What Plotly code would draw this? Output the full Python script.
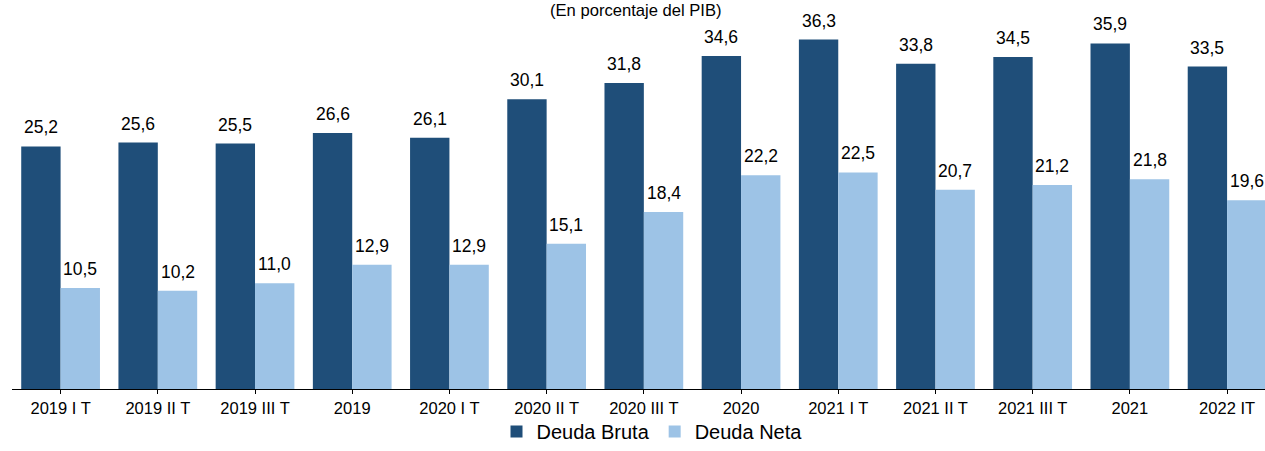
import plotly.graph_objects as go

categories = ["2019 I T", "2019 II T", "2019 III T", "2019", "2020 I T", "2020 II T",
              "2020 III T", "2020", "2021 I T", "2021 II T", "2021 III T", "2021", "2022 IT"]
deuda_bruta = [25.2, 25.6, 25.5, 26.6, 26.1, 30.1, 31.8, 34.6, 36.3, 33.8, 34.5, 35.9, 33.5]
deuda_neta = [10.5, 10.2, 11.0, 12.9, 12.9, 15.1, 18.4, 22.2, 22.5, 20.7, 21.2, 21.8, 19.6]
subtitle = "(En porcentaje del PIB)"

DARK = "#1F4E79"
LIGHT = "#9DC3E6"
FONT = "Liberation Sans, Arial, sans-serif"

x_idx = list(range(len(categories)))

fig = go.Figure()
fig.add_trace(go.Bar(x=x_idx, y=deuda_bruta, name="Deuda Bruta",
                     marker=dict(color=DARK, line=dict(width=0))))
fig.add_trace(go.Bar(x=x_idx, y=deuda_neta, name="Deuda Neta",
                     marker=dict(color=LIGHT, line=dict(width=0))))

# value labels above each bar
half_bar_px = 19.7
annotations = []
for i, (b, n) in enumerate(zip(deuda_bruta, deuda_neta)):
    for val, dx in ((b, -half_bar_px), (n, half_bar_px)):
        annotations.append(dict(
            x=i, y=val, xref="x", yref="y", text=f"{val:.1f}".replace(".", ","),
            showarrow=False, xshift=dx, yshift=7, yanchor="bottom", xanchor="center",
            font=dict(family=FONT, size=17.5, color="#000000"),
        ))

# subtitle at the very top of the figure
annotations.append(dict(
    x=(636 - 12) / (1265 - 12), xref="paper", y=1, yref="paper", text=subtitle,
    showarrow=False, xanchor="center", yanchor="bottom", yshift=-18,
    font=dict(family=FONT, size=16.6, color="#000000"),
))

fig.update_layout(
    width=1265, height=451,
    margin=dict(l=12, r=0, t=4, b=62, autoexpand=False),
    paper_bgcolor="white", plot_bgcolor="white",
    barmode="group", bargap=0.19, bargroupgap=0,
    showlegend=True,
    legend=dict(orientation="h", x=652 / 1265, xanchor="center", xref="container",
                y=-0.018, yanchor="bottom", yref="container",
                bgcolor="rgba(0,0,0,0)",
                font=dict(family=FONT, size=20, color="#000000"),
                itemwidth=30, traceorder="normal", tracegroupgap=0),
    annotations=annotations,
    xaxis=dict(
        tickmode="array", tickvals=x_idx, ticktext=categories,
        range=[-0.5, 12.39], showline=True, linecolor="#000000", linewidth=1,
        ticks="outside", tickson="boundaries", ticklen=4, tickcolor="#000000",
        tickfont=dict(family=FONT, size=16.5, color="#000000"),
        showgrid=False, zeroline=False, automargin=False,
    ),
    yaxis=dict(range=[0, 40], visible=False, showgrid=False, zeroline=False),
)

fig.write_html("out.html")
